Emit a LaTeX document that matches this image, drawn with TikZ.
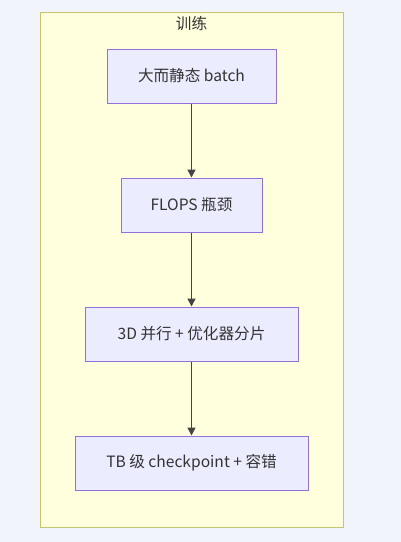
\documentclass[tikz,border=0pt]{standalone}
\usepackage{fontspec}
\setmainfont{Noto Sans CJK SC}
\usetikzlibrary{arrows.meta}
\definecolor{bgc}{HTML}{F1F4FA}
\definecolor{clfill}{HTML}{FFFFDE}
\definecolor{clstroke}{HTML}{C4C470}
\definecolor{nfill}{HTML}{ECECFF}
\definecolor{nstroke}{HTML}{9370DB}
\definecolor{edgec}{HTML}{444444}
\definecolor{txt}{HTML}{333333}
\tikzset{
  box/.style={draw=nstroke, fill=nfill, line width=1pt, text=txt, font=\fontsize{15.6}{18}\selectfont, minimum height=54pt, inner sep=0pt, anchor=center},
  flow/.style={draw=edgec, line width=1.5pt, -{Triangle[length=8pt,width=8pt]}},
}
\begin{document}
\begin{tikzpicture}[x=1pt,y=-1pt]
\useasboundingbox[fill=bgc] (0,0) rectangle (401,542);
\node[draw=clstroke, fill=clfill, line width=1pt, minimum width=303pt, minimum height=515pt, inner sep=0pt] (cl) at (191.5,269.5) {};
\node[text=txt, font=\fontsize{15.6}{18}\selectfont] (title) at (191.5,24) {训练};
\node[box, minimum width=169pt] (a) at (191.5,76) {大而静态 batch};
\node[box, minimum width=141pt] (b) at (191.5,205) {FLOPS 瓶颈};
\node[box, minimum width=213pt] (c) at (191.5,334) {3D 并行 + 优化器分片};
\node[box, minimum width=233pt] (d) at (191.5,463) {TB 级 checkpoint + 容错};
\draw[flow] (a) -- (b);
\draw[flow] (b) -- (c);
\draw[flow] (c) -- (d);
\end{tikzpicture}
\end{document}
